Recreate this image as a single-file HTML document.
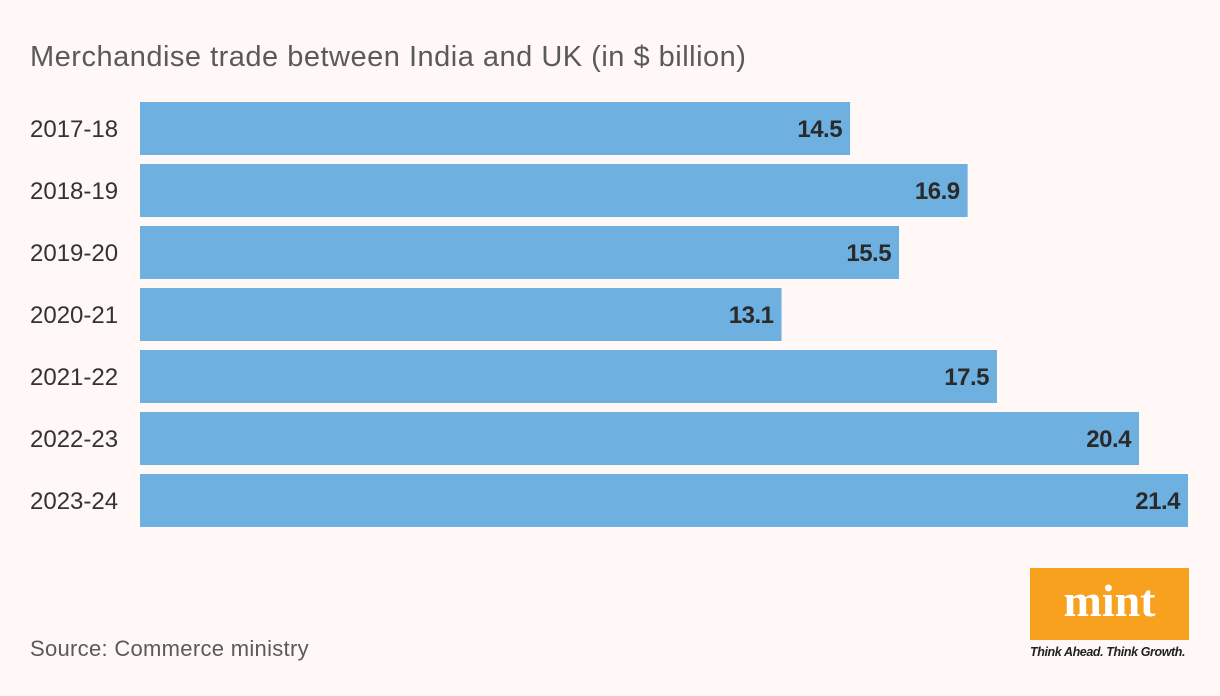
<!DOCTYPE html>
<html><head><meta charset="utf-8"><style>
body{margin:0;width:1220px;height:696px;background:#fff8f7;font-family:"Liberation Sans",sans-serif;position:relative;overflow:hidden}
.t{position:absolute;white-space:nowrap}
</style></head><body>
<div class="t" style="left:30px;top:41px;font-size:29px;color:#5a5a5a;letter-spacing:0.5px">Merchandise trade between India and UK (in $ billion)</div>
<svg id="chart" width="1220" height="560" style="position:absolute;left:0;top:0"></svg>
<div class="t" style="left:30px;top:636px;font-size:22px;color:#5a5a5a;letter-spacing:0.3px">Source: Commerce ministry</div>
<div style="position:absolute;left:1030px;top:568px;width:159px;height:72px;background:#f8a11e;color:#fff;font-family:'Liberation Serif',serif;font-weight:bold;font-size:46px;text-align:center;line-height:66px">mint</div>
<div class="t" style="left:1030px;top:645px;font-size:12.5px;font-style:italic;font-weight:bold;color:#222;letter-spacing:-0.4px">Think Ahead. Think Growth.</div>
<script>
const categories=["2017-18","2018-19","2019-20","2020-21","2021-22","2022-23","2023-24"];
const values=[14.5,16.9,15.5,13.1,17.5,20.4,21.4];
const labels=["14.5","16.9","15.5","13.1","17.5","20.4","21.4"];
const svg=document.getElementById('chart');
const NS="http://www.w3.org/2000/svg";
const x=v=>140+v*(1048/21.4);
const y=i=>102+i*62;
categories.forEach((c,i)=>{
  const r=document.createElementNS(NS,'rect');
  r.setAttribute('x',140);r.setAttribute('y',y(i));
  r.setAttribute('width',x(values[i])-140);r.setAttribute('height',53);
  r.setAttribute('fill','#6eb1e1');
  
  
  svg.appendChild(r);
  const t=document.createElementNS(NS,'text');
  t.setAttribute('x',30);t.setAttribute('y',y(i)+35);
  t.setAttribute('font-size','24');t.setAttribute('fill','#333');
  t.setAttribute('letter-spacing','0');
  t.textContent=c;
  
  
  svg.appendChild(t);
  const v=document.createElementNS(NS,'text');
  v.setAttribute('x',x(values[i])-8);v.setAttribute('y',y(i)+35);
  v.setAttribute('text-anchor','end');
  v.setAttribute('font-size','24');v.setAttribute('font-weight','bold');v.setAttribute('fill','#2a2a2a');
  v.setAttribute('letter-spacing','-0.5');
  v.textContent=labels[i];
  
  
  svg.appendChild(v);
});
</script>
</body></html>
